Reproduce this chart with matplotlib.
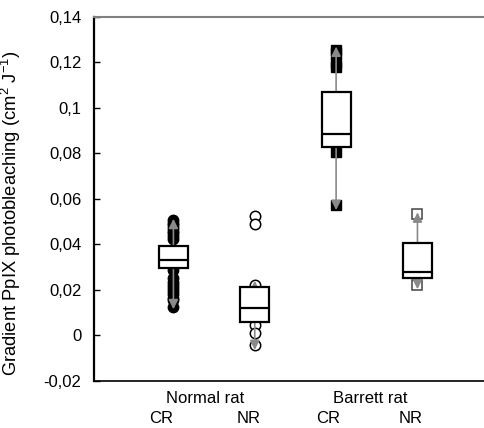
import numpy as np
from matplotlib import pyplot as plt

plt.rcParams['font.family'] = ['Liberation Sans', 'DejaVu Sans']
plt.rcParams['mathtext.fontset'] = 'custom'
plt.rcParams['mathtext.rm'] = 'Liberation Sans'
plt.rcParams['mathtext.it'] = 'Liberation Sans'

# box statistics
positions = [1, 2, 3, 4]
q1 = [0.0296, 0.0059, 0.0826, 0.0252]
median = [0.0331, 0.0120, 0.0883, 0.0278]
q3 = [0.0392, 0.0213, 0.1069, 0.0405]
whis_lo = [0.0115, -0.0064, 0.0550, 0.0203]
whis_hi = [0.0512, 0.0240, 0.1268, 0.0540]

# individual points shown behind each box
pts_normal_cr = [0.0505, 0.0495, 0.0485, 0.0472, 0.0460, 0.0448, 0.0436, 0.0425,
                 0.0287, 0.0250, 0.0236, 0.0222, 0.0208, 0.0194, 0.0180, 0.0166,
                 0.0155, 0.0125]
pts_normal_nr = [0.0524, 0.0488, 0.0223, 0.0045, 0.0010, -0.0042]
pts_barrett_cr = [0.1252, 0.1240, 0.1195, 0.1178, 0.0806, 0.0572]
pts_barrett_nr = [0.0535, 0.0221]

yticks = [-0.02, 0, 0.02, 0.04, 0.06, 0.08, 0.1, 0.12, 0.14]
ytick_labels = ['-0,02', '0', '0,02', '0,04', '0,06', '0,08', '0,1', '0,12', '0,14']
group_labels = ['Normal rat', 'Barrett rat']
group_x = [1.387, 3.416]
sub_labels = ['CR', 'NR', 'CR', 'NR']
sub_x = [0.855, 1.92, 2.9, 3.91]

fs = 12

fig = plt.figure(figsize=(4.84, 4.28), dpi=100)
ax = fig.add_axes([0.194, 0.1098, 0.806, 0.8516])

ax.plot([1] * len(pts_normal_cr), pts_normal_cr, 'o', ms=7.5, mfc='black', mec='black', zorder=2)
ax.plot([2] * len(pts_normal_nr), pts_normal_nr, 'o', ms=7.5, mfc='white', mec='black', mew=1.1, zorder=2)
ax.plot([3] * len(pts_barrett_cr), pts_barrett_cr, 's', ms=7.5, mfc='black', mec='black', zorder=2)
ax.plot([4] * len(pts_barrett_nr), pts_barrett_nr, 's', ms=7.5, mfc='white', mec='#444444', mew=1.1, zorder=2)

# whiskers as grey arrows
for i in range(len(positions)):
    for lo, hi in [(median[i], whis_hi[i]), (median[i], whis_lo[i])]:
        ax.annotate('', xy=(positions[i], hi), xytext=(positions[i], lo),
                    arrowprops=dict(arrowstyle='-|>', color='#8a8a8a', lw=1.2,
                                    mutation_scale=14, shrinkA=0, shrinkB=0),
                    zorder=3)

stats = []
for i in range(len(positions)):
    stats.append({'med': median[i], 'q1': q1[i], 'q3': q3[i],
                  'whislo': median[i], 'whishi': median[i], 'fliers': []})
ax.bxp(stats, positions=positions, widths=0.357, patch_artist=True,
       showcaps=False, showfliers=False,
       boxprops=dict(facecolor='white', edgecolor='black', linewidth=1.6),
       medianprops=dict(color='black', linewidth=1.6),
       whiskerprops=dict(linewidth=0), zorder=4)

ax.set_xlim(0.0225, 4.818)
ax.set_ylim(-0.02, 0.14)
ax.set_yticks(yticks)
ax.set_yticklabels(ytick_labels)
ax.set_xticks([])
ax.tick_params(axis='y', direction='in', length=4, width=1, pad=9, labelsize=fs)
ax.set_ylabel('Gradient PpIX photobleaching (cm$^{2}$ J$^{-1}$)', fontsize=13.2)
ax.yaxis.set_label_coords(-0.182, 0.461)

ax.spines['right'].set_visible(False)
ax.spines['top'].set_color('#808080')
ax.spines['top'].set_linewidth(1.5)
ax.spines['left'].set_linewidth(1.6)
ax.spines['bottom'].set_linewidth(1.2)

tr = ax.get_xaxis_transform()
for x, lab in zip(group_x, group_labels):
    ax.text(x, -0.049, lab, transform=tr, ha='center', va='center', fontsize=fs)
for x, lab in zip(sub_x, sub_labels):
    ax.text(x, -0.104, lab, transform=tr, ha='center', va='center', fontsize=fs)

fig.savefig('out.png', dpi=100)
